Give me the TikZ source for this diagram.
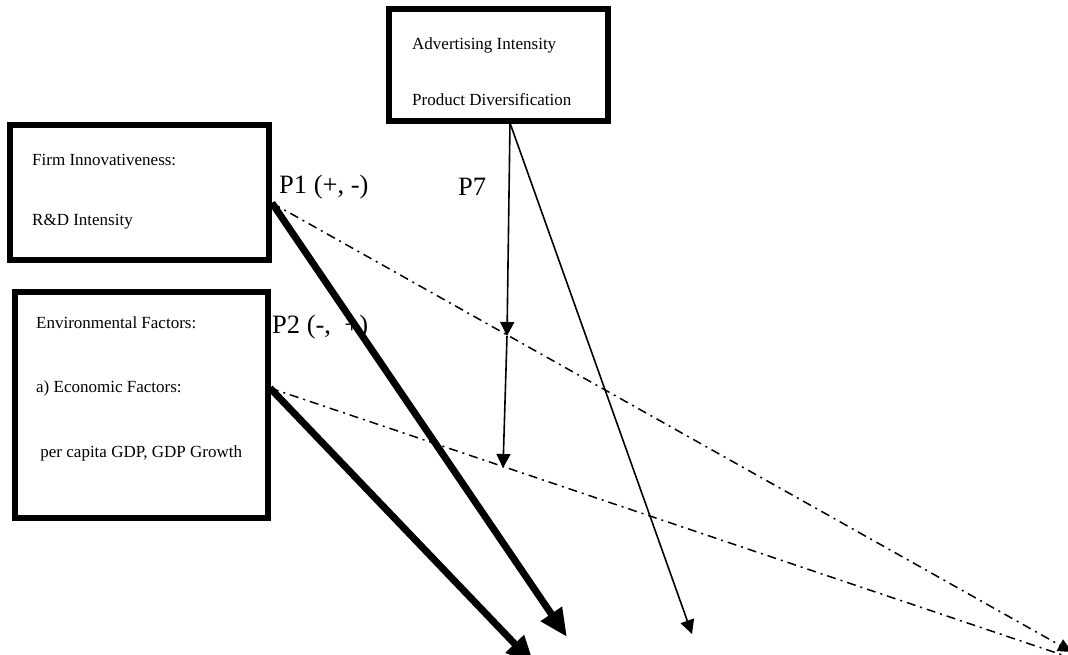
\documentclass[tikz,border=0pt]{standalone}
\usepackage{fontspec}
\setmainfont{Liberation Serif}
\usetikzlibrary{arrows.meta}
\begin{document}
\begin{tikzpicture}[x=1pt,y=-1pt,
  box/.style={draw,line width=5.5pt,inner sep=0pt},
  txt/.style={anchor=west,inner sep=0pt,font=\fontsize{17}{20}\selectfont},
  lbl/.style={anchor=west,inner sep=0pt,font=\fontsize{26.5}{30}\selectfont},
  thick arrow/.style={line width=7pt,-{Triangle[length=28pt,width=24pt]}},
  thin arrow/.style={line width=1.6pt,-{Triangle[length=14pt,width=14pt]}},
  dashdot/.style={line width=1.5pt,dash pattern=on 9pt off 5pt on 2pt off 5pt,-{Triangle[length=14pt,width=13pt]}}]
\useasboundingbox[fill=white] (0,0) rectangle (1068,655);
\clip (0,0) rectangle (1068,655);
% boxes
\node[box,minimum width=219pt,minimum height=112pt] (top) at (498.5,65) {};
\node[box,minimum width=259pt,minimum height=135pt] (firm) at (139.5,192.5) {};
\node[box,minimum width=253pt,minimum height=226pt] (env) at (141.5,405) {};
% texts
\node[txt] (t1) at (412,45) {Advertising Intensity};
\node[txt] (t2) at (412,100) {Product Diversification};
\node[txt] (f1) at (32,160) {Firm Innovativeness:};
\node[txt] (f2) at (32,222) {R\&D Intensity};
\node[txt] (e1) at (36,323) {Environmental Factors:};
\node[txt] (e2) at (36,388) {a) Economic Factors:};
\node[txt] (e3) at (36,453) {\ per capita GDP, GDP Growth};
% labels
\node[lbl] (p1) at (279,187) {P1 (+, -)};
\node[lbl] (p7) at (458,187) {P7};
\node[lbl] (p2) at (272,327) {P2 (-, \ +)};
% coordinates
\coordinate (fo) at (272,203);
\coordinate (eo) at (270,388);
\coordinate (to) at (510,123);
\coordinate (m1) at (507,336);
\coordinate (m2) at (503,468);
\coordinate (d1) at (1072,652);
\coordinate (d2) at (1110,671);
\coordinate (a1) at (567,637);
\coordinate (a2) at (534,664);
\coordinate (a3) at (692,634);
% connectors
\draw[thick arrow] (fo) -- (a1);
\draw[thick arrow] (eo) -- (a2);
\draw[thin arrow] (to) -- (a3);
\draw[thin arrow] (to) -- (m1);
\draw[thin arrow] (m1) -- (m2);
\draw[dashdot] (fo) -- (d1);
\draw[dashdot] (eo) -- (d2);
\end{tikzpicture}
\end{document}
